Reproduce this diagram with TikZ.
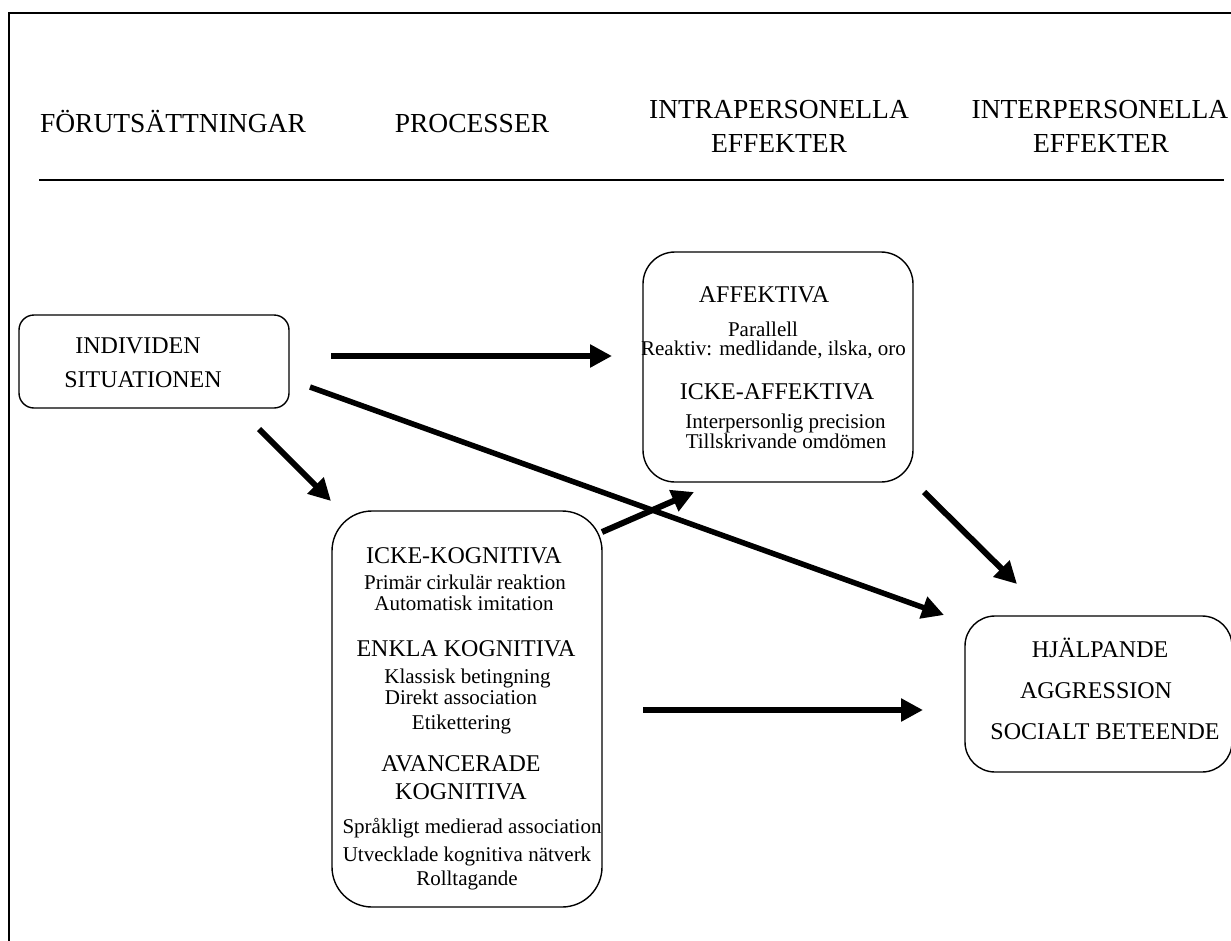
\documentclass[tikz,border=0pt]{standalone}
\usepackage{fontspec}
\setmainfont{Liberation Serif}
\usetikzlibrary{arrows.meta}
\begin{document}
\begin{tikzpicture}[x=1pt,y=-1pt,
  box/.style={draw,line width=1.4pt,rounded corners=#1,inner sep=0pt},
  hdr/.style={font=\fontsize{27.5}{33}\selectfont,anchor=base,inner sep=0pt},
  hd/.style={font=\fontsize{24}{28}\selectfont,anchor=base,inner sep=0pt},
  itm/.style={font=\fontsize{21}{24}\selectfont,anchor=base,inner sep=0pt},
  arr/.style={line width=6pt,-{Triangle[length=22pt,width=22pt]}}]
\useasboundingbox (0,0) rectangle (1231,940);
% frame
\coordinate (fbl) at (9,945);
\coordinate (ftl) at (9,13);
\coordinate (ftr) at (1236,13);
\draw[line width=1.4pt] (fbl) -- (ftl) -- (ftr);
% headers
\node[hdr] (h1) at (173,132) {FÖRUTSÄTTNINGAR};
\node[hdr] (h2) at (472,132) {PROCESSER};
\node[hdr] (h3a) at (779,118) {INTRAPERSONELLA};
\node[hdr] (h3b) at (779,152) {EFFEKTER};
\node[hdr] (h4a) at (1100,118) {INTERPERSONELLA};
\node[hdr] (h4b) at (1101,152) {EFFEKTER};
\coordinate (rl) at (39,180);
\coordinate (rr) at (1224,180);
\draw[line width=1.4pt] (rl) -- (rr);
% boxes
\node[box=15,minimum width=270pt,minimum height=93pt] (ind) at (154,361.5) {};
\node[box=32,minimum width=270pt,minimum height=230pt] (aff) at (778,367) {};
\node[box=40,minimum width=270pt,minimum height=396pt] (proc) at (467,709) {};
\node[box=30,minimum width=267pt,minimum height=156pt] (out) at (1098.5,694) {};
% individen
\node[hd] (i1) at (138,353) {INDIVIDEN};
\node[hd] (i2) at (143,387) {SITUATIONEN};
% affektiva
\node[hd] (f1) at (764,302) {AFFEKTIVA};
\node[itm] (f2) at (763,336) {Parallell};
\node[itm] (f3) at (773.5,355) {Reaktiv: medlidande, ilska, oro};
\node[hd] (f4) at (777,399) {ICKE-AFFEKTIVA};
\node[itm] (f5) at (785.5,428) {Interpersonlig precision};
\node[itm] (f6) at (786,448) {Tillskrivande omdömen};
% processer
\node[hd] (p1) at (464,563) {ICKE-KOGNITIVA};
\node[itm] (p2) at (465,589) {Primär cirkulär reaktion};
\node[itm] (p3) at (464,610) {Automatisk imitation};
\node[hd] (p4) at (466,656) {ENKLA KOGNITIVA};
\node[itm] (p5) at (467.5,683) {Klassisk betingning};
\node[itm] (p6) at (461,704) {Direkt association};
\node[itm] (p7) at (461.5,729) {Etikettering};
\node[hd] (p8) at (461,771) {AVANCERADE};
\node[hd] (p9) at (461,799) {KOGNITIVA};
\node[itm] (p10) at (472,833) {Språkligt medierad association};
\node[itm] (p11) at (467,861) {Utvecklade kognitiva nätverk};
\node[itm] (p12) at (467,885) {Rolltagande};
% outcomes
\node[hd] (o1) at (1100,657) {HJÄLPANDE};
\node[hd] (o2) at (1096,698) {AGGRESSION};
\node[hd] (o3) at (1105,739) {SOCIALT BETEENDE};
% arrows
\coordinate (a1s) at (331,356); \coordinate (a1e) at (612,356);
\coordinate (a2s) at (310,387); \coordinate (a2e) at (944,615);
\coordinate (a3s) at (259,429); \coordinate (a3e) at (331,501);
\coordinate (a4s) at (602,532); \coordinate (a4e) at (694,492);
\coordinate (a5s) at (924,492); \coordinate (a5e) at (1017,584);
\coordinate (a6s) at (643,710); \coordinate (a6e) at (923,710);
\draw[arr] (a1s) -- (a1e);
\draw[arr,line width=5.5pt] (a2s) -- (a2e);
\draw[arr] (a3s) -- (a3e);
\draw[arr] (a4s) -- (a4e);
\draw[arr] (a5s) -- (a5e);
\draw[arr] (a6s) -- (a6e);
\end{tikzpicture}
\end{document}
